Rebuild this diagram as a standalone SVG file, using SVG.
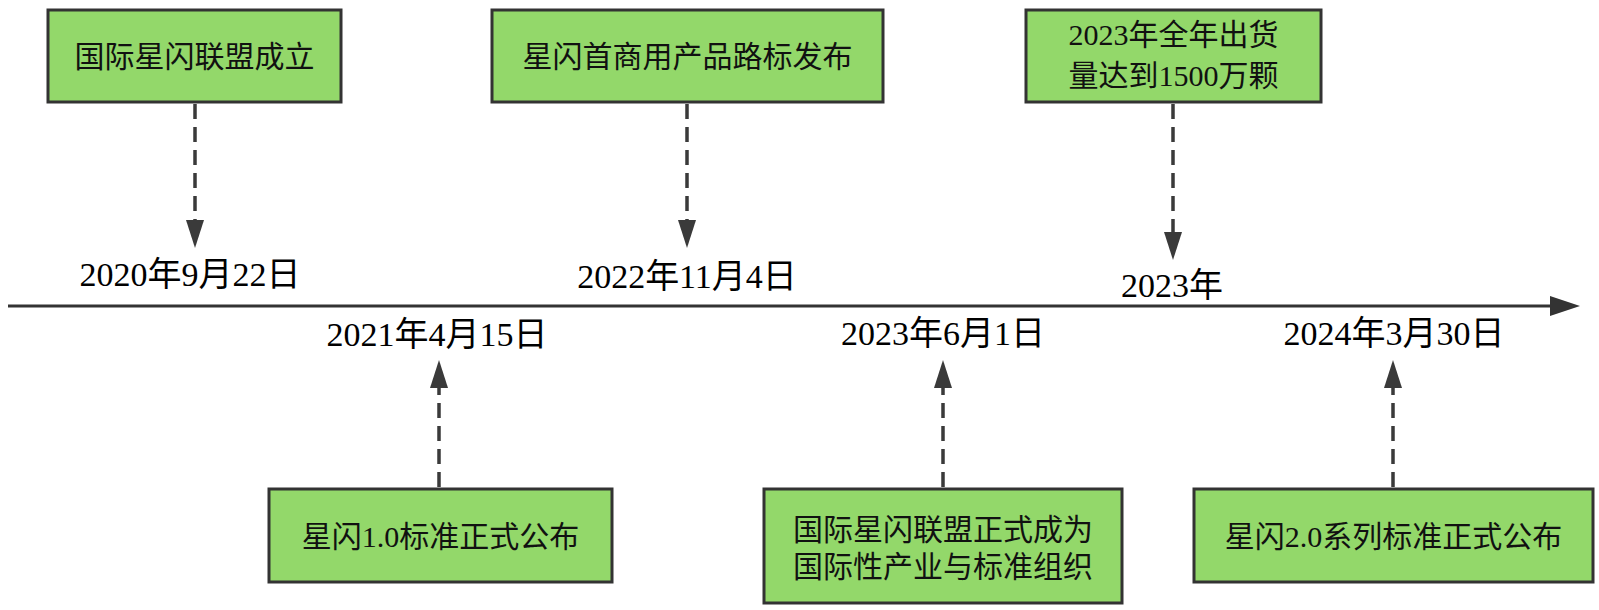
<svg xmlns="http://www.w3.org/2000/svg" width="1599" height="610" viewBox="0 0 1599 610">
<style>
.box{fill:#93d86a;stroke:#333;stroke-width:3}
.shadow{fill:none;stroke:#c8c8c8;stroke-width:2}
.bt{font-family:"Liberation Serif","Noto Sans CJK SC",serif;font-size:30px;fill:#111;text-anchor:middle}
.dt{font-family:"Liberation Serif","Noto Sans CJK SC",serif;font-size:34px;fill:#000;text-anchor:middle}
.conn{stroke:#3a3a3a;stroke-width:3.5;stroke-dasharray:15 8;fill:none}
.axis{stroke:#333;stroke-width:3;fill:none}
</style>
<defs>
<marker id="ah" viewBox="0 0 28 18" markerWidth="28" markerHeight="18" refX="0" refY="9" orient="auto" markerUnits="userSpaceOnUse">
<path d="M0,0 L28,9 L0,18 z" fill="#3a3a3a"/>
</marker>
<marker id="axh" viewBox="0 0 30 20" markerWidth="30" markerHeight="20" refX="0" refY="10" orient="auto" markerUnits="userSpaceOnUse">
<path d="M0,0 L30,10 L0,20 z" fill="#333"/>
</marker>
</defs>
<rect width="1599" height="610" fill="#fff"/>
<g id="connectors">
<line class="axis" x1="8" y1="306" x2="1550" y2="306" marker-end="url(#axh)"/>
<line class="conn" x1="195" y1="104" x2="195" y2="220" marker-end="url(#ah)"/>
<line class="conn" x1="687" y1="104" x2="687" y2="220" marker-end="url(#ah)"/>
<line class="conn" x1="1173" y1="104" x2="1173" y2="232" marker-end="url(#ah)"/>
<line class="conn" x1="439" y1="487" x2="439" y2="388" marker-end="url(#ah)"/>
<line class="conn" x1="943" y1="487" x2="943" y2="388" marker-end="url(#ah)"/>
<line class="conn" x1="1393" y1="487" x2="1393" y2="388" marker-end="url(#ah)"/>
</g>
<g id="node1">
<rect class="box" x="48" y="10" width="293" height="92"/>
<text class="bt" x="194.5" y="67">国际星闪联盟成立</text>
</g>
<g id="node2">
<rect class="box" x="492" y="10" width="391" height="92"/>
<text class="bt" x="687.5" y="67">星闪首商用产品路标发布</text>
</g>
<g id="node3">
<rect class="box" x="1026" y="10" width="295" height="92"/>
<text class="bt" x="1173.5" y="45">2023年全年出货</text>
<text class="bt" x="1173.5" y="86">量达到1500万颗</text>
</g>
<g id="node4">
<rect class="box" x="269" y="489" width="343" height="93"/>
<text class="bt" x="440.5" y="547">星闪1.0标准正式公布</text>
</g>
<g id="node5">
<rect class="box" x="764" y="489" width="358" height="114"/>
<text class="bt" x="943" y="540">国际星闪联盟正式成为</text>
<text class="bt" x="943" y="577">国际性产业与标准组织</text>
</g>
<g id="node6">
<rect class="box" x="1194" y="489" width="399" height="93"/>
<text class="bt" x="1393.5" y="547">星闪2.0系列标准正式公布</text>
</g>
<g id="labels">
<text class="dt" x="190" y="286">2020年9月22日</text>
<text class="dt" x="687" y="288">2022年11月4日</text>
<text class="dt" x="1172" y="297">2023年</text>
<text class="dt" x="437" y="346">2021年4月15日</text>
<text class="dt" x="943" y="345">2023年6月1日</text>
<text class="dt" x="1394" y="345">2024年3月30日</text>
</g>
</svg>
